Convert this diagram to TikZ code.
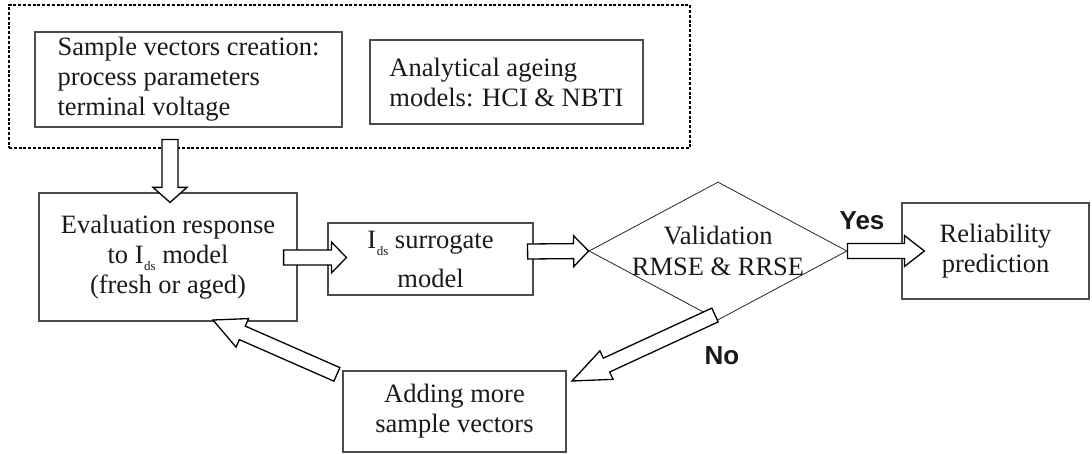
\documentclass[tikz,border=0pt]{standalone}
\usepackage{fontspec}
\setmainfont{Liberation Serif}
\newfontfamily\labelfont{Liberation Sans}
\usetikzlibrary{calc,shapes.geometric}

\newcommand\dsub{\kern0.5pt\raisebox{-7pt}{\fontsize{13}{13}\selectfont ds}}
% block arrow: from, to, shaft half width, head half width, head length
\newcommand\blockarr[5]{%
  \path ($(#2)!#5!(#1)$) coordinate (bah);
  \draw[barrow] ($(#1)!#3!90:(#2)$) -- ($(bah)!#3!90:(#2)$) -- ($(bah)!#4!90:(#2)$)
    -- (#2) -- ($(bah)!#4!-90:(#2)$) -- ($(bah)!#3!-90:(#2)$) -- ($(#1)!#3!-90:(#2)$) -- cycle;
}

\tikzset{
  box/.style={draw=black!70, line width=1.2pt, inner sep=0pt, text=black!90,
    font=\fontsize{26.5}{30}\selectfont},
  grp/.style={draw=black, line width=1.7pt, dash pattern=on 3pt off 1.8pt, inner sep=0pt},
  dia/.style={draw=black!85, line width=0.8pt, diamond, inner sep=0pt},
  barrow/.style={draw=black, fill=white, line width=1.3pt, line join=miter},
  lbl/.style={font=\labelfont\bfseries\fontsize{26}{28}\selectfont, inner sep=0pt, text=black!90},
  txt/.style={inner sep=0pt, text=black!90, font=\fontsize{26.5}{31}\selectfont, align=center},
}

\begin{document}
\begin{tikzpicture}[x=1pt,y=-1pt]
\useasboundingbox (0,0) rectangle (1092,454);

% group (dotted)
\node[grp, minimum width=681pt, minimum height=143pt] (grp) at (349.5,76.5) {};

% boxes
\node[box, minimum width=307pt, minimum height=95pt, align=left] (sample) at (188.5,79.5)
  {Sample vectors creation:\\process parameters\\terminal voltage};
\node[box, minimum width=273pt, minimum height=84pt, align=left] (ageing) at (506.5,82)
  {Analytical ageing\\models: HCI \& NBTI};
\node[box, minimum width=258pt, minimum height=128pt, align=center] (eval) at (168,257)
  {Evaluation response\\to I\dsub{} model\\(fresh or aged)};
\node[box, minimum width=205pt, minimum height=72pt, align=center] (surr) at (430.5,259)
  {I\dsub{} surrogate\\[9pt]model};
\node[dia, minimum width=258pt, minimum height=138pt] (valid) at (718,251) {};
\node[txt] (validtext) at (valid.center) {Validation\\RMSE \& RRSE};
\node[box, minimum width=187pt, minimum height=96pt, align=center] (rel) at (995.5,251)
  {Reliability\\prediction};
\node[box, minimum width=223pt, minimum height=81pt, align=center] (add) at (454.5,411.5)
  {Adding more\\sample vectors};

% labels
\node[lbl] (yes) at (862,221) {Yes};
\node[lbl] (no) at (722,356) {No};

% connector end points
\coordinate (a1s) at ($(sample.south)+(-18.5,12)$);
\coordinate (a1e) at ($(eval.north)+(2,10)$);
\coordinate (a2s) at ($(eval.east)+(-14,0.5)$);
\coordinate (a2e) at ($(surr.west)+(19,-1.5)$);
\coordinate (a3s) at ($(surr.east)+(-6,-7.5)$);
\coordinate (a3e) at (valid.west);
\coordinate (a4s) at (valid.east);
\coordinate (a4e) at ($(rel.west)+(23,0)$);
\coordinate (a5s) at (715,315);
\coordinate (a5e) at (572,381);
\coordinate (a6s) at ($(add.north west)+(-5.5,4)$);
\coordinate (a6e) at (213,320);

% block arrows
\blockarr{a1s}{a1e}{8pt}{17pt}{15pt}
\blockarr{a2s}{a2e}{7.5pt}{15.5pt}{15pt}
\blockarr{a3s}{a3e}{7.5pt}{15.5pt}{15pt}
\blockarr{a4s}{a4e}{7.5pt}{15.5pt}{20pt}
\blockarr{a5s}{a5e}{7.6pt}{15.7pt}{38pt}
\blockarr{a6s}{a6e}{7.4pt}{15.6pt}{32pt}
\end{tikzpicture}
\end{document}
